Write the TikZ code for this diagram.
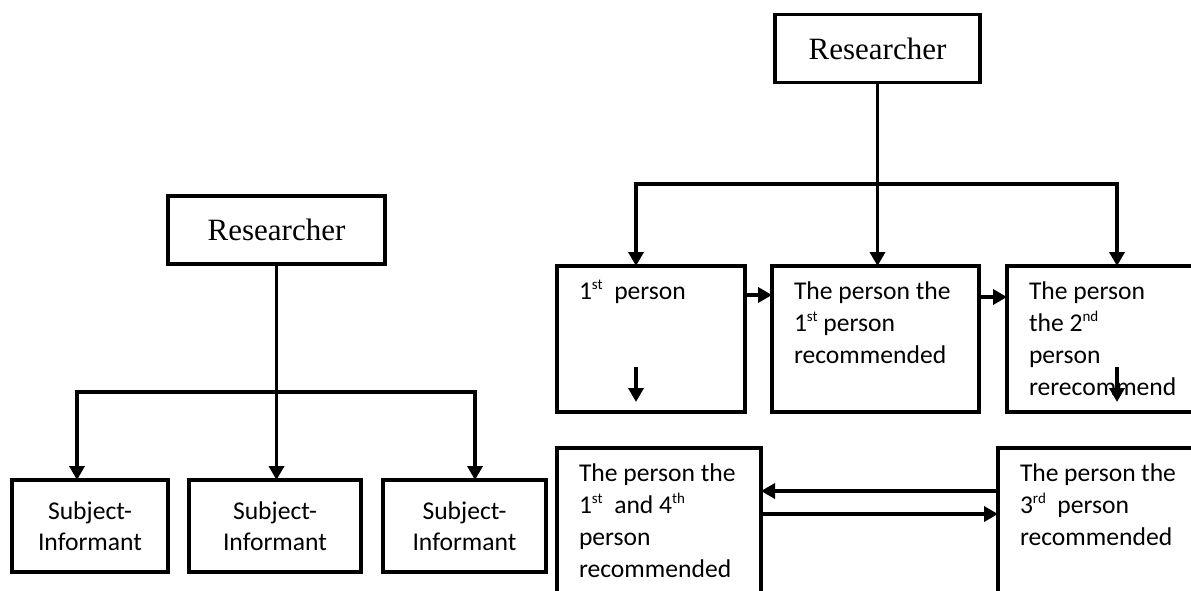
\documentclass[tikz,border=0pt]{standalone}
\usepackage{fontspec}
\setmainfont{Carlito}
\newfontfamily\timesfont{Liberation Serif}
\usetikzlibrary{arrows.meta,positioning}

% top aligned text inside a box of fixed size
\newcommand\cardtext[3]{\parbox[c][#1][t]{#2}{\strut #3}}
% small raised ordinal ending
\newcommand\ordsup[1]{\raisebox{0.42em}{\fontsize{15}{15}\selectfont #1}}

\begin{document}
\begin{tikzpicture}[x=1pt, y=-1pt, node distance=1cm,
    box/.style={rectangle, draw=black, line width=3.5pt, outer sep=0pt},
    headbox/.style={box, minimum height=68pt, inner sep=0pt, font=\timesfont\fontsize{31}{36}\selectfont},
    subjbox/.style={box, minimum height=92pt, inner sep=0pt, align=center, text=black, font=\fontsize{25.6}{31}\selectfont},
    personbox/.style={box, inner xsep=22pt, inner ysep=11.5pt, font=\fontsize{25.6}{32}\selectfont},
    link/.style={line width=3.5pt, line join=miter},
    arr/.style={link, -{Triangle[length=14pt,width=15pt]}},
    twoarr/.style={link, {Triangle[length=14pt,width=15pt]}-{Triangle[length=14pt,width=15pt]}}]

    \useasboundingbox (0,0) rectangle (1191,591);
    \clip (0,0) rectangle (1191,591);

    % left tree
    \node (ResearcherL) [headbox, minimum width=217pt] at (276.5,230) {Researcher};

    \node (SubjectA) [subjbox, minimum width=156pt, anchor=north west] at (12,480) {Subject-\\Informant};
    \node (SubjectB) [subjbox, minimum width=172pt, right=21pt of SubjectA] {Subject-\\Informant};
    \node (SubjectC) [subjbox, minimum width=163pt, right=22pt of SubjectB] {Subject-\\Informant};

    \coordinate (busL1) at (77,392);
    \coordinate (busL3) at (475,392);
    \draw[twoarr] (busL1 |- SubjectA.north) -- (busL1) -- (busL3) -- (busL3 |- SubjectC.north);
    \draw[arr] (ResearcherL.south) -- (ResearcherL.south |- SubjectB.north);

    % right tree
    \node (ResearcherR) [headbox, minimum width=205pt] at (877.5,48.5) {Researcher};

    \node (FirstPerson) [personbox, anchor=north west] at (557,266) {
        \cardtext{123pt}{144pt}{1\ordsup{st}\ \ person}
    };
    \node (SecondPerson) [personbox, right=27pt of FirstPerson] {
        \cardtext{123pt}{163pt}{The person the\\1\ordsup{st} person\\recommended}
    };
    \node (ThirdPerson) [personbox, right=28pt of SecondPerson] {
        \cardtext{123pt}{156pt}{The person\\the 2\ordsup{nd}\\person\\rerecommend}
    };
    \node (FourthPerson) [personbox, below right=36pt and 0pt of FirstPerson.south west, anchor=north west] {
        \cardtext{149pt}{160pt}{The person the\\1\ordsup{st}\ \ and 4\ordsup{th}\\person\\recommended}
    };
    \node (FifthPerson) [personbox, right=237pt of FourthPerson] {
        \cardtext{149pt}{156pt}{The person the\\3\ordsup{rd}\ \ person\\recommended}
    };

    \coordinate (busR1) at (636,184);
    \coordinate (busR3) at (1117,184);
    \draw[twoarr] (busR1 |- FirstPerson.north) -- (busR1) -- (busR3) -- (busR3 |- ThirdPerson.north);
    \draw[arr] (ResearcherR.south) -- (ResearcherR.south |- SecondPerson.north);

    \draw[arr] ([yshift=44pt]FirstPerson.east) -- ([yshift=44pt]SecondPerson.west);
    \draw[arr] ([yshift=42pt]SecondPerson.east) -- ([yshift=42pt]ThirdPerson.west);

    % small arrows inside the boxes
    \draw[arr] ([xshift=79pt,yshift=45pt]FirstPerson.south west) -- ([xshift=79pt,yshift=10pt]FirstPerson.south west);
    \draw[arr] ([xshift=110pt,yshift=45pt]ThirdPerson.south west) -- ([xshift=110pt,yshift=10pt]ThirdPerson.south west);

    \draw[arr] ([yshift=43pt]FifthPerson.west) -- ([yshift=43pt]FourthPerson.east);
    \draw[arr] ([yshift=20pt]FourthPerson.east) -- ([yshift=20pt]FifthPerson.west);
\end{tikzpicture}
\end{document}
